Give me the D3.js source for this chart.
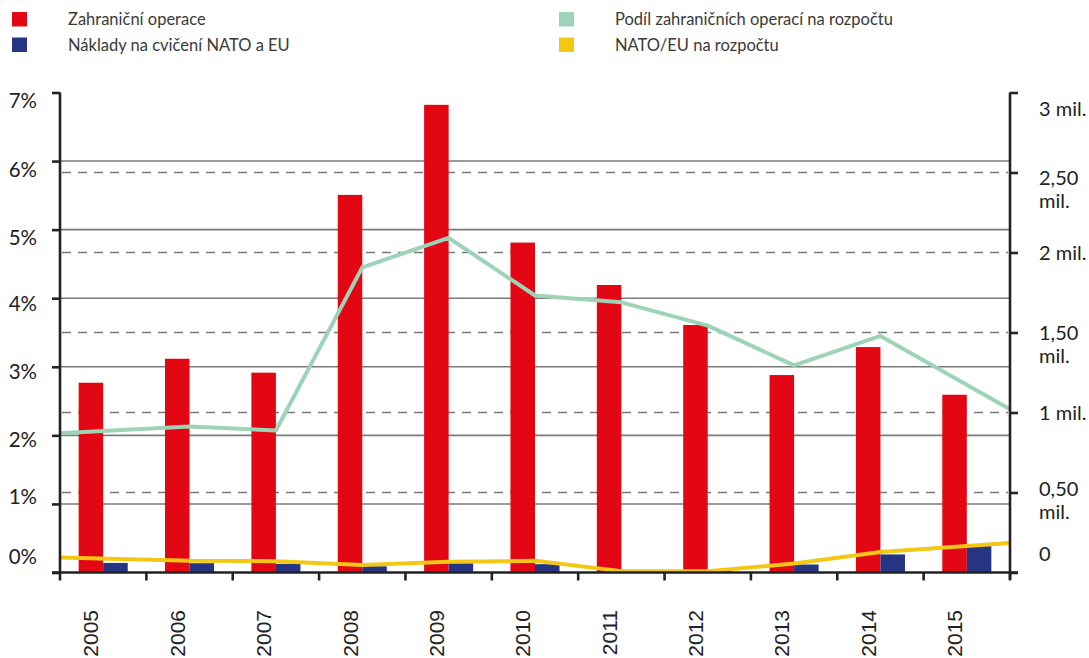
<!DOCTYPE html>
<html><head><meta charset="utf-8">
<script src="https://cdn.jsdelivr.net/npm/d3@7"></script>
<style>
body{margin:0;background:#fff;}
svg{display:block;}
</style></head>
<body>
<svg id="chart" width="1089" height="658"></svg>
<script>
// ---- data ----
const years = ["2005","2006","2007","2008","2009","2010","2011","2012","2013","2014","2015"];
const foreignOps = [1.186,1.336,1.249,2.360,2.923,2.062,1.797,1.547,1.234,1.409,1.111]; // mil.
const natoEuCosts = [0.060,0.058,0.054,0.039,0.058,0.052,0.000,0.010,0.050,0.113,0.165]; // mil.
const shareForeign = [2.03,2.13,2.07,4.45,4.88,4.04,3.94,3.60,3.02,3.45,2.38]; // %
const shareNatoEu = [0.22,0.17,0.165,0.11,0.155,0.17,0.02,0.02,0.13,0.30,0.43]; // %
const pctTicks = [0,1,2,3,4,5,6,7];
const pctLabels = ["0%","1%","2%","3%","4%","5%","6%","7%"];
const milTicks = [0,0.5,1,1.5,2,2.5,3];
const milLabels = [["0"],["0,50","mil."],["1 mil."],["1,50","mil."],["2 mil."],["2,50","mil."],["3 mil."]];
const legendItems = ["Zahraniční operace","Náklady na cvičení NATO a EU","Podíl zahraničních operací na rozpočtu","NATO/EU na rozpočtu"];

// ---- layout ----
const C = {red:"#E30613", blue:"#263583", green:"#9DD3B6", yellow:"#F2C814", grid:"#7a7a7a", axis:"#222"};
const L = 60, R = 1010, T = 92.5, B = 572.5;
const svg = d3.select("#chart");
const x = d3.scaleBand().domain(years).range([L,R]).padding(0);
const bw = x.bandwidth();
const xs = d3.scaleBand().domain(["ops","nato"]).range([bw*0.216, bw*0.784]).padding(0);
const yL = d3.scaleLinear().domain([0,7]).range([B,T]);
const yR = d3.scaleLinear().domain([0,3]).range([B,T]);
const tickFont = "Lato, 'Noto Sans', sans-serif";

// gridlines
svg.append("g").selectAll("line").data(pctTicks.filter(d=>d>0 && d<7)).join("line")
  .attr("x1",L).attr("x2",R).attr("y1",d=>yL(d)).attr("y2",d=>yL(d))
  .attr("stroke",C.grid).attr("stroke-width",1.6);
svg.append("g").selectAll("line").data(milTicks.filter(d=>d>0 && d<3)).join("line")
  .attr("x1",L+2).attr("x2",R-2).attr("y1",d=>yR(d)).attr("y2",d=>yR(d))
  .attr("stroke",C.grid).attr("stroke-width",1.6).attr("stroke-dasharray","9,7");

// bars
const gb = svg.append("g");
gb.selectAll(".ops").data(years).join("rect").attr("class","ops")
  .attr("x",(d)=>x(d)+xs("ops")).attr("width",xs.bandwidth())
  .attr("y",(d,i)=>yR(foreignOps[i])).attr("height",(d,i)=>yR(0)-yR(foreignOps[i]))
  .attr("fill",C.red);
gb.selectAll(".nato").data(years).join("rect").attr("class","nato")
  .attr("x",(d)=>x(d)+xs("nato")).attr("width",xs.bandwidth())
  .attr("y",(d,i)=>yR(natoEuCosts[i])).attr("height",(d,i)=>yR(0)-yR(natoEuCosts[i]))
  .attr("fill",C.blue);

// lines (ends stretched to the axes)
const lx = (d,i)=> i===0 ? x.range()[0] : (i===years.length-1 ? x.range()[1] : x(d)+bw/2);
const line = (vals)=> d3.line().x((d,i)=>lx(d,i)).y((d,i)=>yL(vals[i]))(years);
svg.append("path").attr("d",line(shareForeign)).attr("fill","none")
  .attr("stroke",C.green).attr("stroke-width",4).attr("stroke-linejoin","round");
svg.append("path").attr("d",line(shareNatoEu)).attr("fill","none")
  .attr("stroke",C.yellow).attr("stroke-width",4).attr("stroke-linejoin","round");

// left axis
const leftOff = [-9,0,11,12,12,15,15,15];
const ga = svg.append("g").attr("transform",`translate(${L},0)`)
  .call(d3.axisLeft(yL).tickValues(pctTicks).tickSize(8).tickFormat((d,i)=>pctLabels[i]));
ga.select(".domain").attr("d",`M0,${T}V${B}`).attr("stroke",C.axis).attr("stroke-width",2.6);
ga.selectAll(".tick line").attr("stroke",C.axis).attr("stroke-width",2.6);
ga.selectAll(".tick text").attr("x",-23).attr("dy",null)
  .attr("y",(d,i)=>leftOff[i])
  .attr("font-family",tickFont).attr("font-size",20.5).attr("fill","#222").attr("text-anchor","end");

// right axis
const rightOff = [-12,3,7,7,7,12,23];
const gr = svg.append("g").attr("transform",`translate(${R},0)`)
  .call(d3.axisRight(yR).tickValues(milTicks).tickSize(8).tickFormat(""));
gr.select(".domain").attr("d",`M0,${T}V${B+7}`).attr("stroke",C.axis).attr("stroke-width",2.6);
gr.selectAll(".tick line").attr("stroke",C.axis).attr("stroke-width",2.6);
gr.selectAll(".tick").each(function(d,i){
  const t = d3.select(this).select("text").attr("x",29).attr("dy",null).attr("y",rightOff[i])
    .attr("font-family",tickFont).attr("font-size",20).attr("fill","#222").attr("text-anchor","start");
  milLabels[i].forEach((s,j)=>t.append("tspan").attr("x",29).attr("y",rightOff[i]+j*23).text(s));
});

// bottom axis
const gx = svg.append("g").attr("transform",`translate(0,${B})`);
gx.append("line").attr("x1",L-8).attr("x2",R+8).attr("stroke",C.axis).attr("stroke-width",2.6);
gx.selectAll(".bt").data(years.concat(["end"])).join("line").attr("class","bt")
  .attr("x1",(d,i)=> i<years.length ? x(d) : x.range()[1]).attr("x2",(d,i)=> i<years.length ? x(d) : x.range()[1])
  .attr("y1",0).attr("y2",8).attr("stroke",C.axis).attr("stroke-width",2.6);
gx.selectAll(".yl").data(years).join("text").attr("class","yl")
  .attr("transform",d=>`translate(${x(d)+xs("ops")+xs.bandwidth()/2},${37.5}) rotate(-90)`)
  .attr("dy","0.36em").attr("text-anchor","end")
  .attr("font-family","'Liberation Sans', Arial, sans-serif").attr("font-size",21).attr("fill","#222")
  .text(d=>d);

// legend
const legColors = [C.red, C.blue, C.green, C.yellow];
const lg = svg.append("g");
legendItems.forEach((s,i)=>{
  const col = Math.floor(i/2), row = i%2;
  const gx0 = col===0 ? 12 : 559, gy0 = row===0 ? 12 : 37.5;
  lg.append("rect").attr("x",gx0).attr("y",gy0).attr("width",15).attr("height",14.5).attr("fill",legColors[i]);
  lg.append("text").attr("x",gx0+56).attr("y",gy0+13).attr("font-family",tickFont)
    .attr("font-size",16.5).attr("fill","#3a3a3a").text(s);
});
</script>
</body></html>
